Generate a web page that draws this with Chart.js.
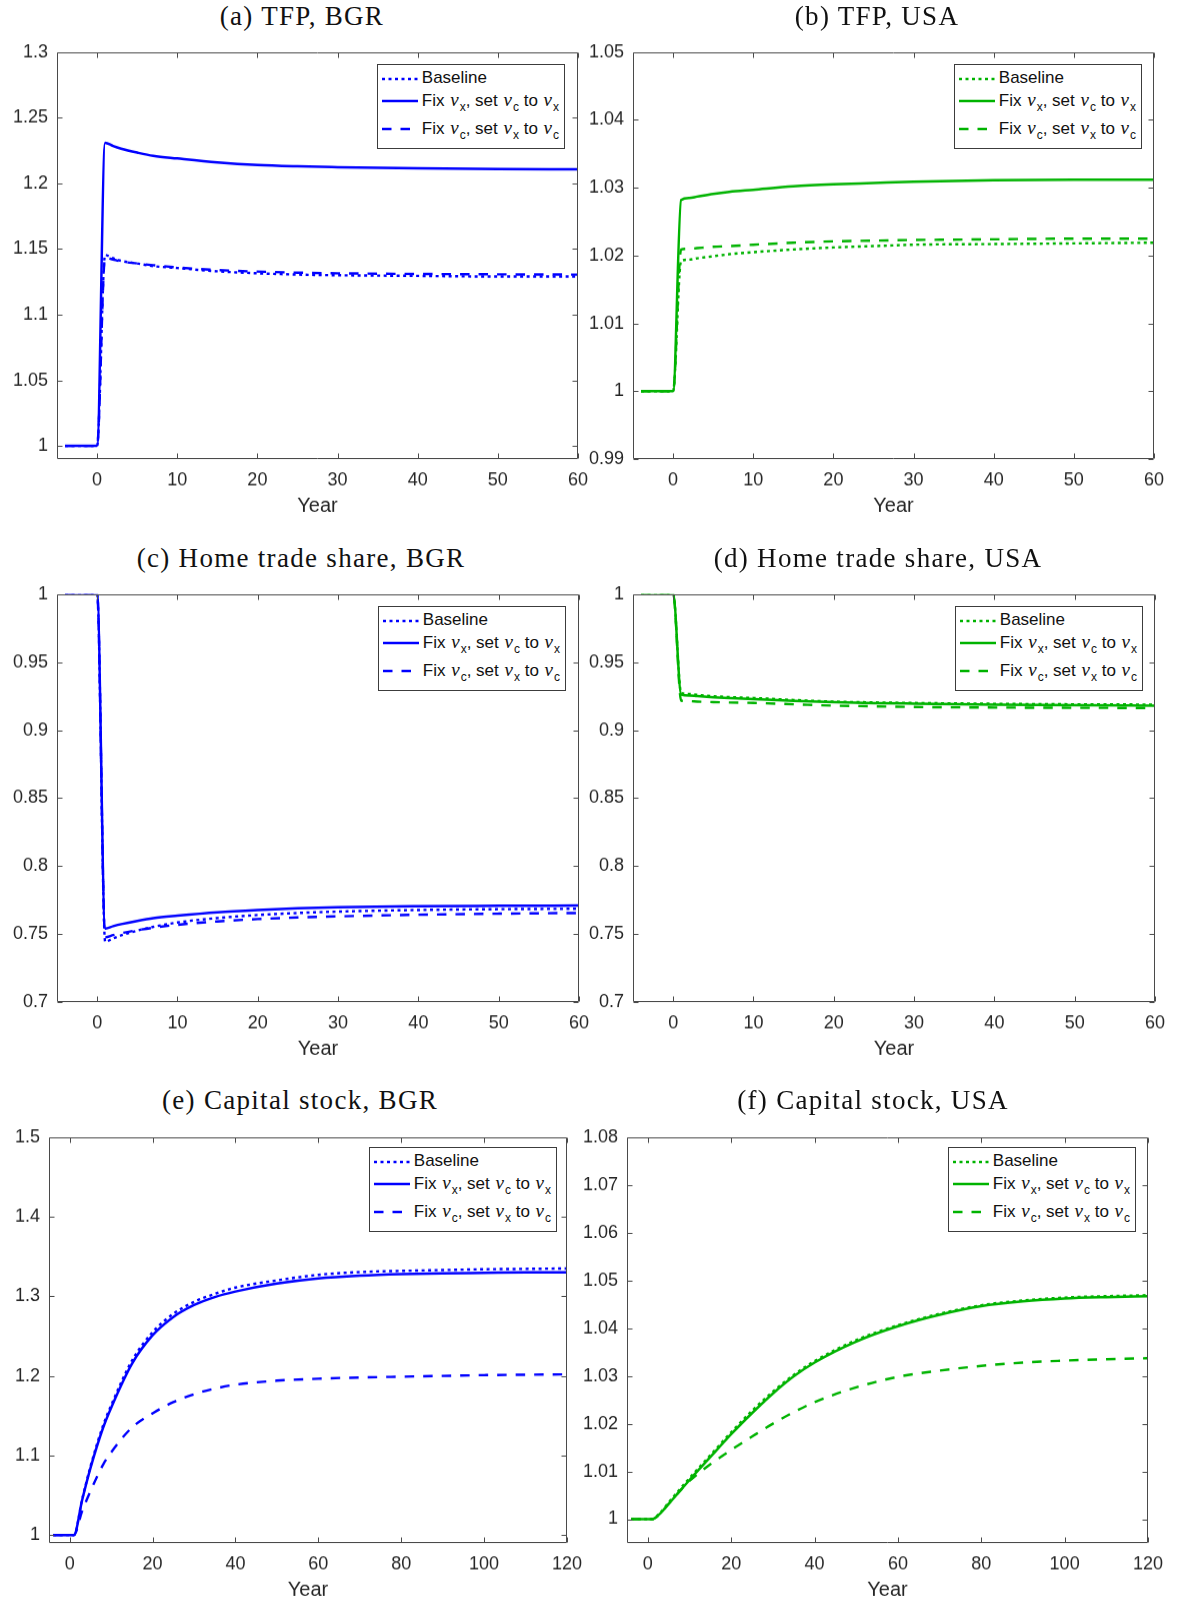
<!DOCTYPE html>
<html>
<head>
<meta charset="utf-8">
<script src="https://cdn.jsdelivr.net/npm/chart.js@4.4.1/dist/chart.umd.min.js"></script>
<style>
  html, body { margin: 0; padding: 0; background: #fff; }
  body { width: 1180px; height: 1604px; position: relative; overflow: hidden; font-family: "Liberation Sans", Arial, sans-serif; }
  canvas { position: absolute; }
  .ptitle { position: absolute; width: 600px; text-align: center; font-family: "Liberation Serif", "Times New Roman", serif; font-size: 27px; letter-spacing: 1.3px; line-height: 30px; color: #111; white-space: nowrap; }
  .legend { position: absolute; background: #fff; border: 1px solid #3c3c3c; padding: 3px 5px 3px 3px; color: #111; font-size: 17px; }
  .legend .row { display: flex; align-items: flex-start; white-space: nowrap; }
  .legend .row svg { flex: none; margin-right: 3px; }
  .legend .row span { line-height: 20px; }
  .legend i { font-family: "Liberation Serif", "Times New Roman", serif; font-size: 19px; padding: 0 1px 0 1px; }
  .legend sub { font-size: 12px; line-height: 0; vertical-align: -5px; }
</style>
</head>
<body>
<script>
// ---------------- data ----------------
const yearsShort = [-4, 0, 1, 2, 3, 5, 7, 10, 15, 20, 25, 30, 40, 50, 60];
const yearsLong  = [-4, 0, 1, 3, 5, 8, 10, 15, 20, 25, 30, 35, 40, 50, 60, 70, 80, 90, 100, 110, 120];

const xTicksShort = [0, 10, 20, 30, 40, 50, 60];
const xTicksLong  = [0, 20, 40, 60, 80, 100, 120];

const legendLabels = ['Baseline', 'Fix νx, set νc to νx', 'Fix νc, set νx to νc'];
const panelTitles = ['(a) TFP, BGR', '(b) TFP, USA', '(c) Home trade share, BGR',
                     '(d) Home trade share, USA', '(e) Capital stock, BGR', '(f) Capital stock, USA'];

// (a) TFP, BGR
const tfpBgrBaseline = [1, 1, 1.1455, 1.1430, 1.1410, 1.1390, 1.1370, 1.1355, 1.1330, 1.1315, 1.1305, 1.1300, 1.1295, 1.1290, 1.1290];
const tfpBgrFixX     = [1, 1, 1.2310, 1.2285, 1.2265, 1.2235, 1.2210, 1.2190, 1.2160, 1.2140, 1.2130, 1.2124, 1.2115, 1.2110, 1.2108];
const tfpBgrFixC     = [1, 1, 1.1435, 1.1420, 1.1405, 1.1390, 1.1377, 1.1360, 1.1340, 1.1328, 1.1320, 1.1315, 1.1310, 1.1307, 1.1305];
const tfpBgrTicks    = [1, 1.05, 1.1, 1.15, 1.2, 1.25, 1.3];

// (b) TFP, USA
const tfpUsaBaseline = [1, 1, 1.0192, 1.0194, 1.0196, 1.0199, 1.0202, 1.0205, 1.0209, 1.0212, 1.0214, 1.0216, 1.0217, 1.0218, 1.0219];
const tfpUsaFixX     = [1, 1, 1.0282, 1.0285, 1.0287, 1.0291, 1.0294, 1.0297, 1.0302, 1.0305, 1.0307, 1.0309, 1.0311, 1.0312, 1.0312];
const tfpUsaFixC     = [1, 1, 1.0209, 1.0210, 1.0211, 1.0213, 1.0214, 1.0216, 1.0219, 1.0221, 1.0222, 1.0223, 1.0224, 1.0225, 1.0225];
const tfpUsaTicks    = [0.99, 1, 1.01, 1.02, 1.03, 1.04, 1.05];

// (c) Home trade share, BGR
const htsBgrBaseline = [1, 1, 0.7444, 0.7468, 0.7490, 0.7525, 0.7553, 0.7585, 0.7618, 0.7640, 0.7655, 0.7665, 0.7677, 0.7683, 0.7686];
const htsBgrFixX     = [1, 1, 0.7541, 0.7558, 0.7573, 0.7597, 0.7617, 0.7635, 0.7660, 0.7677, 0.7690, 0.7698, 0.7705, 0.7708, 0.7710];
const htsBgrFixC     = [1, 1, 0.7476, 0.7492, 0.7506, 0.7528, 0.7547, 0.7568, 0.7593, 0.7610, 0.7622, 0.7630, 0.7642, 0.7650, 0.7655];
const htsTicks       = [0.7, 0.75, 0.8, 0.85, 0.9, 0.95, 1];

// (d) Home trade share, USA
const htsUsaBaseline = [1, 1, 0.9273, 0.9266, 0.9260, 0.9250, 0.9243, 0.9237, 0.9222, 0.9210, 0.9204, 0.9200, 0.9194, 0.9190, 0.9188];
const htsUsaFixX     = [1, 1, 0.9261, 0.9255, 0.9250, 0.9242, 0.9236, 0.9229, 0.9215, 0.9205, 0.9199, 0.9195, 0.9188, 0.9183, 0.9180];
const htsUsaFixC     = [1, 1, 0.9217, 0.9213, 0.9210, 0.9206, 0.9203, 0.9200, 0.9190, 0.9180, 0.9175, 0.9170, 0.9166, 0.9164, 0.9163];

// (e) Capital stock, BGR
const capBgrBaseline = [1, 1, 1, 1.045, 1.086, 1.137, 1.163, 1.219, 1.255, 1.278, 1.293, 1.303, 1.311, 1.320, 1.327, 1.3305, 1.332, 1.333, 1.334, 1.3345, 1.335];
const capBgrFixX     = [1, 1, 1, 1.044, 1.084, 1.134, 1.160, 1.215, 1.251, 1.274, 1.289, 1.299, 1.306, 1.316, 1.3225, 1.326, 1.328, 1.329, 1.3295, 1.330, 1.330];
const capBgrFixC     = [1, 1, 1, 1.030, 1.055, 1.088, 1.104, 1.135, 1.153, 1.167, 1.177, 1.184, 1.189, 1.194, 1.1965, 1.198, 1.199, 1.200, 1.201, 1.2015, 1.202];
const capBgrTicks    = [1, 1.1, 1.2, 1.3, 1.4, 1.5];

// (f) Capital stock, USA
const capUsaBaseline = [1, 1, 1, 1.0014, 1.0035, 1.0066, 1.0086, 1.0134, 1.0182, 1.0227, 1.0267, 1.0302, 1.0331, 1.0375, 1.0406, 1.0430, 1.0448, 1.0458, 1.0464, 1.0467, 1.0469];
const capUsaFixX     = [1, 1, 1, 1.0012, 1.0032, 1.0062, 1.0082, 1.0130, 1.0178, 1.0222, 1.0263, 1.0299, 1.0328, 1.0372, 1.0404, 1.0428, 1.0446, 1.0456, 1.0462, 1.0465, 1.0467];
const capUsaFixC     = [1, 1, 1, 1.0012, 1.0032, 1.0062, 1.0080, 1.0115, 1.0145, 1.0173, 1.0200, 1.0224, 1.0245, 1.0276, 1.0298, 1.0311, 1.0321, 1.0328, 1.0332, 1.0335, 1.0337];
const capUsaTicks    = [1, 1.01, 1.02, 1.03, 1.04, 1.05, 1.06, 1.07, 1.08];

// ---------------- layout / style ----------------
const BLUE = '#0000ff';
const GREEN = '#00b300';
const AXIS_W = 70, AXIS_H = 60, PAD_T = 12, PAD_R = 25;

const panels = [
  { title: panelTitles[0], color: BLUE,  years: yearsShort, series: [tfpBgrBaseline, tfpBgrFixX, tfpBgrFixC], yMin: 0.99, yMax: 1.3,  yTicks: tfpBgrTicks, xMin: -5, xMax: 60,  xTicks: xTicksShort, rect: [57, 52, 578, 460],    tc: [302, 16],   lg: [13, 12] },
  { title: panelTitles[1], color: GREEN, years: yearsShort, series: [tfpUsaBaseline, tfpUsaFixX, tfpUsaFixC], yMin: 0.99, yMax: 1.05, yTicks: tfpUsaTicks, xMin: -5, xMax: 60,  xTicks: xTicksShort, rect: [633, 52, 1154, 460],  tc: [877, 16],   lg: [12, 12] },
  { title: panelTitles[2], color: BLUE,  years: yearsShort, series: [htsBgrBaseline, htsBgrFixX, htsBgrFixC], yMin: 0.7,  yMax: 1,    yTicks: htsTicks,    xMin: -5, xMax: 60,  xTicks: xTicksShort, rect: [57, 594, 579, 1003],  tc: [301, 558],  lg: [13, 12] },
  { title: panelTitles[3], color: GREEN, years: yearsShort, series: [htsUsaBaseline, htsUsaFixX, htsUsaFixC], yMin: 0.7,  yMax: 1,    yTicks: htsTicks,    xMin: -5, xMax: 60,  xTicks: xTicksShort, rect: [633, 594, 1155, 1003], tc: [878, 558],  lg: [12, 12] },
  { title: panelTitles[4], color: BLUE,  years: yearsLong,  series: [capBgrBaseline, capBgrFixX, capBgrFixC], yMin: 0.99, yMax: 1.5,  yTicks: capBgrTicks, xMin: -5, xMax: 120, xTicks: xTicksLong,  rect: [49, 1137, 567, 1544],  tc: [300, 1100], lg: [10, 10] },
  { title: panelTitles[5], color: GREEN, years: yearsLong,  series: [capUsaBaseline, capUsaFixX, capUsaFixC], yMin: 0.995, yMax: 1.08, yTicks: capUsaTicks, xMin: -5, xMax: 120, xTicks: xTicksLong,  rect: [627, 1137, 1148, 1544], tc: [873, 1100], lg: [12, 10] }
];

const styles = [
  { borderDash: [3, 3.5], borderWidth: 2.4 },
  { borderDash: [],       borderWidth: 2.5 },
  { borderDash: [9.5, 9], borderWidth: 2.4 }
];

Chart.defaults.font.family = '"Liberation Sans", Arial, sans-serif';
Chart.defaults.color = '#262626';

function fmt(v) { return String(+(+v).toFixed(4)); }

const matlabBox = {
  id: 'matlabBox',
  afterDatasetsDraw(chart) {
    const { ctx, chartArea: a, scales: { x, y } } = chart;
    const L = Math.round(a.left) + 0.5, T = Math.round(a.top) + 0.5;
    const R = Math.round(a.right) - 0.5, B = Math.round(a.bottom) - 0.5;
    ctx.save();
    ctx.strokeStyle = '#4a4a4a';
    ctx.lineWidth = 1;
    ctx.beginPath();
    ctx.rect(L, T, R - L, B - T);
    const tl = 5;
    x.ticks.forEach(t => {
      const px = Math.round(x.getPixelForValue(t.value)) + 0.5;
      ctx.moveTo(px, B); ctx.lineTo(px, B - tl);
      ctx.moveTo(px, T); ctx.lineTo(px, T + tl);
    });
    y.ticks.forEach(t => {
      const py = Math.round(y.getPixelForValue(t.value)) + 0.5;
      ctx.moveTo(L, py); ctx.lineTo(L + tl, py);
      ctx.moveTo(R, py); ctx.lineTo(R - tl, py);
    });
    ctx.stroke();
    ctx.restore();
  }
};

function lineSvg(color, dash) {
  const d = dash.length ? ` stroke-dasharray="${dash.join(' ')}"` : '';
  return `<svg width="38" height="20"><line x1="1" y1="11" x2="37" y2="11" stroke="${color}" stroke-width="2.4"${d}/></svg>`;
}

function legendText(label) {
  return label.replace(/ν([a-z])/g, '<i>ν</i><sub>$1</sub>');
}

panels.forEach(p => {
  const [L, T, R, B] = p.rect;
  const cv = document.createElement('canvas');
  const W = (R - L) + AXIS_W + PAD_R;
  const H = (B - T) + PAD_T + AXIS_H;
  cv.width = W; cv.height = H;
  cv.style.left = (L - AXIS_W) + 'px';
  cv.style.top = (T - PAD_T) + 'px';
  cv.style.width = W + 'px'; cv.style.height = H + 'px';
  document.body.appendChild(cv);

  const datasets = p.series.map((vals, i) => ({
    label: legendLabels[i],
    data: p.years.map((yr, k) => ({ x: yr, y: vals[k] })),
    borderColor: p.color,
    backgroundColor: p.color,
    borderWidth: styles[i].borderWidth,
    borderDash: styles[i].borderDash,
    borderCapStyle: 'butt',
    pointRadius: 0,
    cubicInterpolationMode: 'monotone',
    fill: false
  }));

  const chart = new Chart(cv, {
    type: 'line',
    data: { datasets },
    options: {
      responsive: false,
      animation: false,
      devicePixelRatio: 1,
      layout: { padding: { top: PAD_T, right: PAD_R, left: 0, bottom: 0 } },
      plugins: { legend: { display: false }, title: { display: false }, tooltip: { enabled: false } },
      scales: {
        x: {
          type: 'linear', min: p.xMin, max: p.xMax,
          afterBuildTicks: s => { s.ticks = p.xTicks.map(v => ({ value: v })); },
          afterFit: s => { s.height = AXIS_H; },
          grid: { display: false, drawTicks: false },
          border: { display: false },
          ticks: { padding: 10, color: '#262626', font: { size: 18 }, autoSkip: false, maxRotation: 0, callback: v => fmt(v) },
          title: { display: true, text: 'Year', color: '#262626', font: { size: 20 }, padding: { top: 0, bottom: 2 } }
        },
        y: {
          type: 'linear', min: p.yMin, max: p.yMax,
          afterBuildTicks: s => { s.ticks = p.yTicks.map(v => ({ value: v })); },
          afterFit: s => { s.width = AXIS_W; },
          grid: { display: false, drawTicks: false },
          border: { display: false },
          ticks: { padding: 9, color: '#262626', font: { size: 18 }, autoSkip: false, callback: v => fmt(v) }
        }
      }
    },
    plugins: [matlabBox]
  });

  // align the plot area exactly with the target rectangle
  const ca = chart.chartArea;
  const dTop = ca.top - PAD_T;
  const dBot = (H - AXIS_H) - ca.bottom;
  const dLeft = ca.left - AXIS_W;
  const dRight = (W - PAD_R) - ca.right;
  if (Math.abs(dTop) + Math.abs(dBot) + Math.abs(dLeft) + Math.abs(dRight) > 0.5) {
    const W2 = Math.round(W + dLeft + dRight), H2 = Math.round(H + dTop + dBot);
    cv.style.left = Math.round(L - AXIS_W - dLeft) + 'px';
    cv.style.top = Math.round(T - PAD_T - dTop) + 'px';
    chart.resize(W2, H2);
    cv.style.width = W2 + 'px'; cv.style.height = H2 + 'px';
  }

  // panel title
  const t = document.createElement('div');
  t.className = 'ptitle';
  t.textContent = p.title;
  t.style.left = (p.tc[0] - 300) + 'px';
  t.style.top = (p.tc[1] - 15) + 'px';
  document.body.appendChild(t);

  // legend
  const lg = document.createElement('div');
  lg.className = 'legend';
  lg.style.right = (1180 - (R - p.lg[0])) + 'px';
  lg.style.top = (T + p.lg[1]) + 'px';
  const heights = [22, 28, 27];
  lg.innerHTML = legendLabels.map((lab, i) =>
    `<div class="row" style="height:${heights[i]}px">${lineSvg(p.color, styles[i].borderDash)}<span>${legendText(lab)}</span></div>`
  ).join('');
  document.body.appendChild(lg);
});
</script>
</body>
</html>
